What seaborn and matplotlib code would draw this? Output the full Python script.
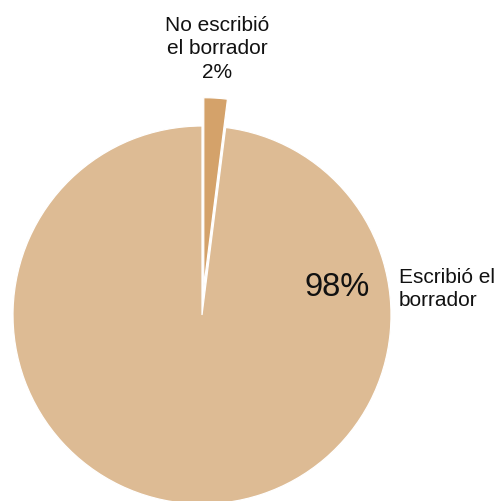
import numpy as np
import matplotlib
matplotlib.use("Agg")
import matplotlib.pyplot as plt
import seaborn as sns

# data
categories = ["No escribió\nel borrador", "Escribió el\nborrador"]
shares = [2, 98]
pct_labels = ["2%", "98%"]
colors = ["#D4A26A", "#DDBB94"]

sns.set_style("white")
plt.rcParams["font.family"] = ["Liberation Sans", "DejaVu Sans"]

W, H = 500, 501
fig = plt.figure(figsize=(W / 100, H / 100), dpi=100)
ax = fig.add_axes([0, 0, 1, 1])

# pie geometry in pixels (center, radius)
cx, cy, r = 202, 315, 189

ax.pie(shares, colors=colors, startangle=90, counterclock=False,
       explode=[0.15, 0], radius=1, center=(0, 0), frame=True,
       wedgeprops=dict(edgecolor="white", linewidth=0.9))
ax.set_xlim(-cx / r, (W - cx) / r)
ax.set_ylim(-(H - cy) / r, cy / r)
ax.set_aspect("auto")
ax.axis("off")

ax.text(0.079, 1.41, categories[0] + "\n" + pct_labels[0], ha="center", va="center",
        fontsize=15, linespacing=1.3, color="#111111")
ax.text(0.716, 0.148, pct_labels[1], ha="center", va="center",
        fontsize=23.5, color="#111111")
ax.text(1.042, 0.137, categories[1], ha="left", va="center",
        fontsize=15, linespacing=1.3, color="#111111")

fig.savefig("out.png", dpi=100, facecolor="white")
